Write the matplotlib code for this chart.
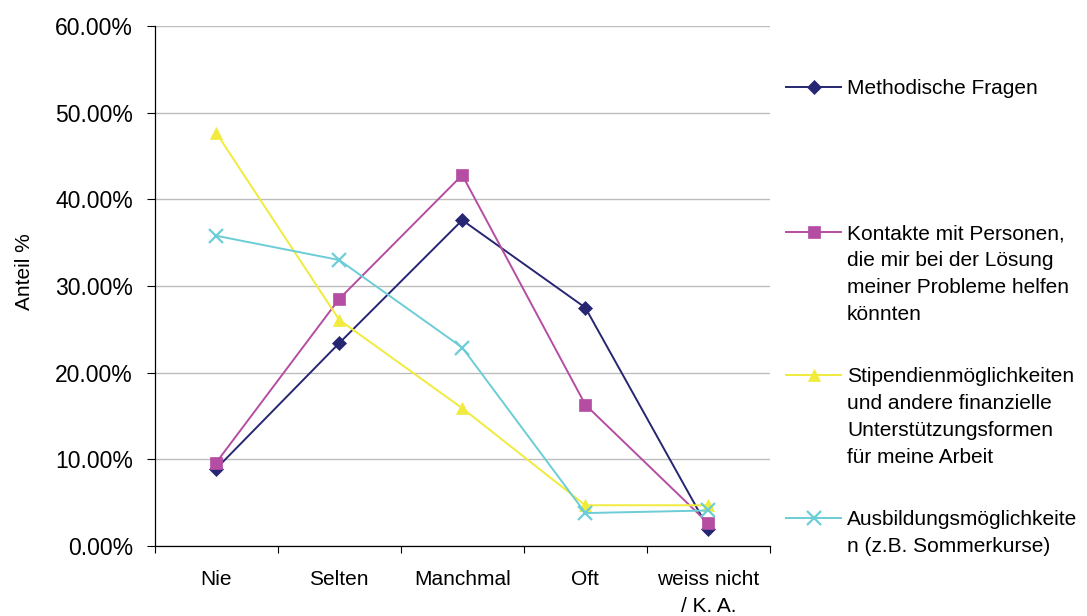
import matplotlib
matplotlib.use("Agg")
import matplotlib.pyplot as plt
from matplotlib.ticker import FuncFormatter, FixedLocator

plt.rcParams['font.family'] = ['Liberation Sans', 'DejaVu Sans']

# Data (Anteil in %)
categories = ["Nie", "Selten", "Manchmal", "Oft", "weiss nicht\n/ K. A."]
methodische = [8.9, 23.4, 37.6, 27.5, 2.0]
kontakte = [9.6, 28.5, 42.8, 16.3, 2.6]
stipendien = [47.7, 26.1, 15.9, 4.7, 4.7]
ausbildung = [35.8, 33.0, 22.9, 3.8, 4.1]

series_labels = [
    "Methodische Fragen",
    "Kontakte mit Personen,\ndie mir bei der Lösung\nmeiner Probleme helfen\nkönnten",
    "Stipendienmöglichkeiten\nund andere finanzielle\nUnterstützungsformen\nfür meine Arbeit",
    "Ausbildungsmöglichkeite\nn (z.B. Sommerkurse)",
]
series_values = [methodische, kontakte, stipendien, ausbildung]
colors = ["#262673", "#B54DA3", "#F0EB3C", "#6CCDD6"]
markers = ["D", "s", "^", "x"]
msizes = [7, 8, 9, 10]

W, H = 1087, 616
fig = plt.figure(figsize=(W / 100, H / 100), dpi=100)
ax = fig.add_axes([154.5 / W, 1 - 546 / H, 615.5 / W, 520 / H])

x = list(range(len(categories)))
for vals, col, mk, ms in zip(series_values, colors, markers, msizes):
    ax.plot(x, vals, color=col, lw=1.4, marker=mk, markersize=ms,
            markeredgewidth=1.6 if mk == "x" else 0.5, markeredgecolor=col,
            markerfacecolor=col, clip_on=False)

ax.set_xlim(-0.5, len(categories) - 0.5)
ax.set_ylim(0, 60)
ax.set_yticks(range(0, 61, 10))
ax.yaxis.set_major_formatter(FuncFormatter(lambda v, p: f"{v:.2f}%"))
ax.set_xticks(x)
ax.set_xticklabels(categories, linespacing=1.5)
ax.xaxis.set_minor_locator(FixedLocator([i - 0.5 for i in range(len(categories) + 1)]))

ax.tick_params(axis='x', which='major', length=0, pad=17.5, labelsize=15)
ax.tick_params(axis='x', which='minor', length=5, width=0.8, direction='out')
ax.tick_params(axis='y', length=5.5, width=0.8, pad=10, labelsize=16.5)

ax.grid(axis='y', color='#bdbdbd', lw=1.0)
ax.set_axisbelow(True)
for s in ['top', 'right']:
    ax.spines[s].set_visible(False)
for s in ['left', 'bottom']:
    ax.spines[s].set_linewidth(0.9)

ax.set_ylabel("Anteil %", fontsize=15, va='center')
ax.yaxis.set_label_coords(-0.212, 0.527)

# Legend drawn by hand so the handle sits on the first line of each label
lax = fig.add_axes([0, 0, 1, 1], facecolor='none')
lax.set_xlim(0, W)
lax.set_ylim(H, 0)
lax.axis('off')
legend_y = [87, 232, 375, 518]
for lab, col, mk, ms, ly in zip(series_labels, colors, markers, msizes, legend_y):
    lax.plot([786, 841], [ly, ly], color=col, lw=1.4)
    lax.plot([813.5], [ly], color=col, marker=mk, markersize=ms,
             markeredgewidth=1.6 if mk == "x" else 0.5, markeredgecolor=col,
             markerfacecolor=col)
    lax.text(847, ly - 8, lab, fontsize=15, va='top', ha='left', linespacing=1.53)

fig.savefig("out.png", dpi=100)
